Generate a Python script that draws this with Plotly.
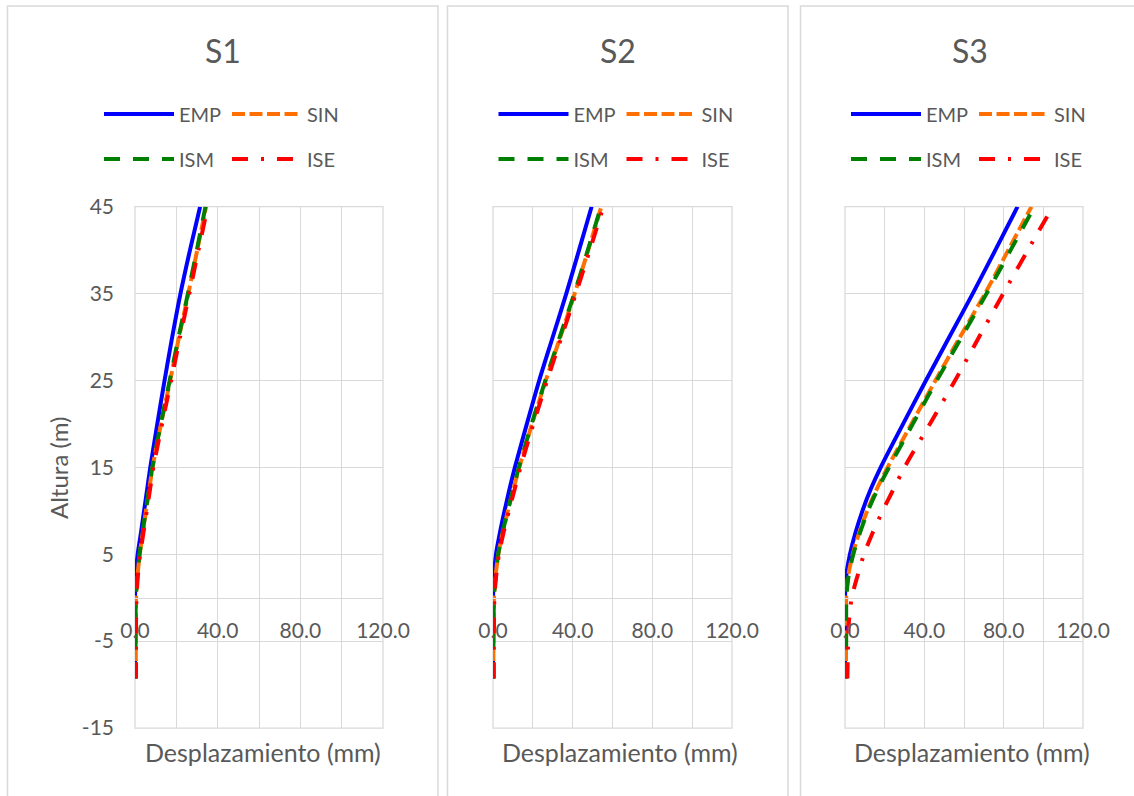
import plotly.graph_objects as go

# Height along the structure (m), shared by every profile
ALTURA = [-9.3, -6, -3, 0, 2.5, 5, 7.5, 10, 12.5, 15, 20, 25, 30, 35, 40, 45]

# Lateral displacement profiles (mm) for each soil case
S1_EMP = [0, 0, 0, 0, 0.3, 1.3, 2.9, 4.4, 5.9, 7.4, 10.8, 14.3, 18.0, 22.0, 26.6, 31.5]
S1_SIN = [0.4, 0.4, 0.4, 0.5, 1.2, 2.3, 3.8, 5.3, 6.9, 8.5, 12.6, 17.0, 21.3, 25.8, 30.1, 34.4]
S1_ISM = [0.3, 0.3, 0.3, 0.4, 1.1, 2.2, 3.7, 5.2, 6.8, 8.4, 12.5, 16.8, 21.1, 25.6, 29.9, 34.1]
S1_ISE = [0.5, 0.5, 0.5, 0.7, 1.4, 2.5, 4.1, 5.7, 7.3, 8.9, 13.1, 17.5, 21.8, 26.3, 30.7, 35.2]

S2_EMP = [0, 0, 0, 0, 0.5, 1.5, 3.5, 5.8, 8.3, 11.0, 17.0, 23.2, 30.0, 36.8, 43.2, 49.5]
S2_SIN = [0.2, 0.2, 0.3, 0.5, 1.3, 2.7, 4.9, 7.5, 10.3, 13.2, 19.6, 26.5, 33.8, 41.0, 47.8, 54.4]
S2_ISM = [0.2, 0.2, 0.3, 0.5, 1.3, 2.6, 4.8, 7.4, 10.1, 13.0, 19.4, 26.3, 33.5, 40.8, 47.6, 54.2]
S2_ISE = [0.4, 0.4, 0.5, 0.7, 1.6, 3.0, 5.3, 8.0, 10.9, 13.8, 20.3, 27.2, 34.4, 41.6, 48.6, 55.4]

S3_EMP = [0, 0, 0, 0, 0.6, 2.5, 5.3, 8.8, 13.0, 18.0, 29.3, 40.8, 52.6, 64.4, 75.8, 87.0]
S3_SIN = [0.5, 0.5, 0.5, 0.6, 1.6, 3.9, 7.2, 11.2, 16.0, 21.5, 33.5, 45.6, 58.0, 70.6, 82.3, 94.0]
S3_ISM = [0.6, 0.6, 0.6, 0.7, 1.8, 4.2, 7.6, 11.6, 16.5, 22.2, 34.2, 46.3, 58.8, 71.4, 83.5, 95.5]
S3_ISE = [1.2, 1.5, 1.9, 3.4, 6.3, 9.6, 14.0, 19.0, 24.5, 30.0, 42.8, 55.5, 67.6, 79.8, 92.2, 104.8]

PANELS = ["S1", "S2", "S3"]
SERIES = ["EMP", "SIN", "ISM", "ISE"]
DATA = {
    "S1": [S1_EMP, S1_SIN, S1_ISM, S1_ISE],
    "S2": [S2_EMP, S2_SIN, S2_ISM, S2_ISE],
    "S3": [S3_EMP, S3_SIN, S3_ISM, S3_ISE],
}

X_TICKS = [0, 40, 80, 120]
X_LABELS = ["0.0", "40.0", "80.0", "120.0"]
Y_TICKS = [-15, -5, 5, 15, 25, 35, 45]
Y_LABELS = ["-15", "-5", "5", "15", "25", "35", "45"]

X_TITLE = "Desplazamiento (mm)"
Y_TITLE = "Altura (m)"

# ---- styling ---------------------------------------------------------------
W, H = 1134, 796
FONT = "Lato, 'Open Sans', sans-serif"
TXT = "#595959"
GRID = "#d9d9d9"

STYLE = {
    "EMP": dict(color="#0000ff", dash="solid"),
    "SIN": dict(color="#ff7000", dash="13px,4.5px"),
    "ISM": dict(color="#008000", dash="16px,13px"),
    "ISE": dict(color="#ff0000", dash="16px,13px,3px,13px"),
}
LINE_W = 4


def px(x):
    return x / W


def py(y):
    return 1 - y / H


# plot-area pixel boxes (left, right) for each panel; shared top/bottom
PLOT_X = [(135, 383), (493, 732), (845, 1083)]
PLOT_TOP, PLOT_BOT = 206.7, 728.0
ZERO_Y = PLOT_TOP + (PLOT_BOT - PLOT_TOP) * 45 / 60
PANEL_BOX = [(7.5, 438), (447.5, 788), (800.5, 1140)]
PANEL_CX = [222.5, 618, 970]
XTITLE_CX = [263, 619.5, 972]
LEGEND_X = [104, 498.5, 851]

fig = go.Figure()

for i, panel in enumerate(PANELS):
    n = "" if i == 0 else str(i + 1)
    leg_a = "legend" if i == 0 else f"legend{2 * i + 1}"
    leg_b = f"legend{2 * i + 2}"
    for j, name in enumerate(SERIES):
        st = STYLE[name]
        fig.add_trace(go.Scatter(
            x=DATA[panel][j], y=ALTURA, name=name, mode="lines",
            line=dict(color=st["color"], dash=st["dash"], width=LINE_W,
                      shape="spline", smoothing=0.8),
            xaxis=f"x{n}", yaxis=f"y{n}",
            legend=leg_a if j < 2 else leg_b,
            hoverinfo="x+y",
        ))

layout = dict(
    width=W, height=H, autosize=False,
    margin=dict(l=0, r=0, t=0, b=0, autoexpand=False),
    paper_bgcolor="white", plot_bgcolor="white",
    font=dict(family=FONT, color=TXT),
    shapes=[], annotations=[],
)

for i, panel in enumerate(PANELS):
    n = "" if i == 0 else str(i + 1)
    x0, x1 = PLOT_X[i]
    layout[f"xaxis{n}"] = dict(
        domain=[px(x0), px(x1)], range=[0, 120],
        anchor="free", position=py(ZERO_Y),
        tickmode="array", tickvals=X_TICKS, ticktext=X_LABELS,
        tickfont=dict(size=21, color=TXT), ticks="", ticklabelstandoff=14,
        showgrid=True, gridcolor=GRID, gridwidth=1.25,
        minor=dict(dtick=20, showgrid=True, gridcolor=GRID, gridwidth=1.25),
        showline=True, linecolor=GRID, linewidth=1.25,
        zeroline=False, fixedrange=True,
    )
    layout[f"yaxis{n}"] = dict(
        domain=[py(PLOT_BOT), py(PLOT_TOP)], range=[-15, 45],
        anchor=f"x{n}",
        tickmode="array", tickvals=Y_TICKS, ticktext=Y_LABELS,
        tickfont=dict(size=21, color=TXT), ticks="", ticklabelstandoff=20,
        showticklabels=(i == 0),
        showgrid=True, gridcolor=GRID, gridwidth=1.25,
        showline=False, zeroline=False, fixedrange=True,
    )
    # frame around the plotting area
    layout["shapes"].append(dict(
        type="rect", xref=f"x{n} domain", yref=f"y{n} domain",
        x0=0, x1=1, y0=0, y1=1, layer="below",
        line=dict(color=GRID, width=1.25),
    ))
    # chart-area border
    bx0, bx1 = PANEL_BOX[i]
    layout["shapes"].append(dict(
        type="rect", xref="paper", yref="paper",
        x0=px(bx0), x1=px(bx1), y0=py(805), y1=py(6), layer="below",
        line=dict(color="#d9d9d9", width=1.5),
    ))
    layout["annotations"].append(dict(
        text=panel, xref="paper", yref="paper", x=px(PANEL_CX[i]), y=py(51),
        xanchor="center", yanchor="middle", showarrow=False,
        font=dict(size=32, color=TXT),
    ))
    layout["annotations"].append(dict(
        text=X_TITLE, xref="paper", yref="paper", x=px(XTITLE_CX[i]), y=py(752),
        xanchor="center", yanchor="middle", showarrow=False,
        font=dict(size=25, color=TXT),
    ))
    # two-row legend per panel
    for r, (leg, yrow) in enumerate([("legend" if i == 0 else f"legend{2 * i + 1}", 114),
                                     (f"legend{2 * i + 2}", 159)]):
        layout[leg] = dict(
            orientation="h", x=px(LEGEND_X[i] - 5), xanchor="left",
            y=py(yrow), yanchor="middle",
            itemwidth=70, entrywidth=43, entrywidthmode="pixels",
            font=dict(size=20, color=TXT), bgcolor="rgba(0,0,0,0)",
            borderwidth=0, itemclick=False, itemdoubleclick=False,
            tracegroupgap=0,
        )

layout["annotations"].append(dict(
    text=Y_TITLE, xref="paper", yref="paper", x=px(58), y=py(468),
    xanchor="center", yanchor="middle", textangle=-90, showarrow=False,
    font=dict(size=24, color=TXT),
))

fig.update_layout(**layout)
fig.write_html("out.html")
